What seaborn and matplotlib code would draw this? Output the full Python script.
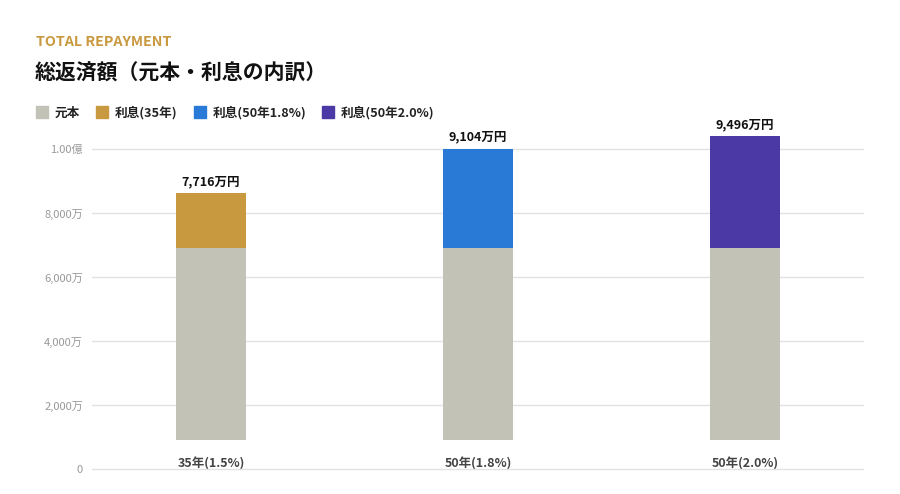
import numpy as np
import pandas as pd
import seaborn as sns
import matplotlib.pyplot as plt
from matplotlib.lines import Line2D

# data (万円)
plans = ['35年(1.5%)', '50年(1.8%)', '50年(2.0%)']
principal = [6000, 6000, 6000]
total = [7716, 9104, 9496]
legend_labels = ['元本', '利息(35年)', '利息(50年1.8%)', '利息(50年2.0%)']
y_ticks = [0, 2000, 4000, 6000, 8000, 10000]

gray = '#C2C2B6'
interest_colors = ['#C99940', '#2979D6', '#4B3AA6']

sns.set_theme(style='white')
plt.rcParams['font.family'] = ['Noto Sans CJK JP', 'DejaVu Sans']

df = pd.DataFrame({'plan': plans, 'principal': principal, 'total': total})

fig = plt.figure(figsize=(9, 4.94), dpi=100)
# 32 px per 1000万, 0 at y=469.3 px
ymin = -60
ymax = (469.3 - 120) / 32 * 1000
bottom_px = 469.3 - ymin * 32 / 1000
ax = fig.add_axes([92 / 900, (494 - bottom_px) / 494, 772 / 900, (bottom_px - 120) / 494])
ax.set_ylim(ymin, ymax)

# bars sit on a raised baseline, leaving room for the category labels
base_offset = 917
ax2 = ax.twinx()
ax2.set_ylim(ymin - base_offset, ymax - base_offset)

sns.barplot(data=df, x='plan', y='total', hue='plan', palette=interest_colors,
            width=0.262, saturation=1, legend=False, linewidth=0, ax=ax2)
sns.barplot(data=df, x='plan', y='principal', color=gray,
            width=0.262, saturation=1, linewidth=0, ax=ax2)

for i, t in enumerate(total):
    ax2.annotate(f'{t:,}万円', xy=(i, t), xytext=(0, 3.5), textcoords='offset points',
                 ha='center', va='bottom', fontsize=9, fontweight='bold', color='#111111')

ax2.set_yticks([])
ax2.set_ylabel('')
for s in ax2.spines.values():
    s.set_visible(False)

ax.set_xlim(-0.446, 2.446)
ax.set_xticks(range(len(plans)), plans)
ax.set_xlabel('')
ax.tick_params(axis='x', length=0, pad=-10, labelsize=9, labelcolor='#444444')
for lab in ax.get_xticklabels():
    lab.set_fontweight('bold')

def ylab(v):
    if v == 0:
        return '0'
    if v >= 10000:
        return f'{v / 10000:.2f}億'
    return f'{v:,}万'

ax.set_yticks(y_ticks, [ylab(v) for v in y_ticks])
ax.tick_params(axis='y', length=0, pad=6.5, labelsize=8, labelcolor='#999999')
ax.grid(axis='y', color='#E2E2E2', linewidth=1)
ax.set_axisbelow(True)
for s in ax.spines.values():
    s.set_visible(False)

fig.text(36 / 900, 1 - 42 / 494, 'TOTAL REPAYMENT', color='#C99940', fontsize=10.3,
         fontweight='bold', va='center', ha='left')
fig.text(35 / 900, 1 - 73 / 494, '総返済額（元本・利息の内訳）', color='#111111', fontsize=15,
         fontweight='bold', va='center', ha='left')

handles = [Line2D([], [], marker='s', linestyle='', markersize=8, color=c)
           for c in [gray] + interest_colors]
leg = fig.legend(handles, legend_labels, loc='center left', bbox_to_anchor=(26 / 900, 1 - 113 / 494),
                 ncol=4, frameon=False, handlelength=0.8, handletextpad=0.6, columnspacing=1.35,
                 prop={'size': 9.1, 'weight': 'bold'})
for t in leg.get_texts():
    t.set_color('#222222')

fig.savefig('out.png', dpi=100)
